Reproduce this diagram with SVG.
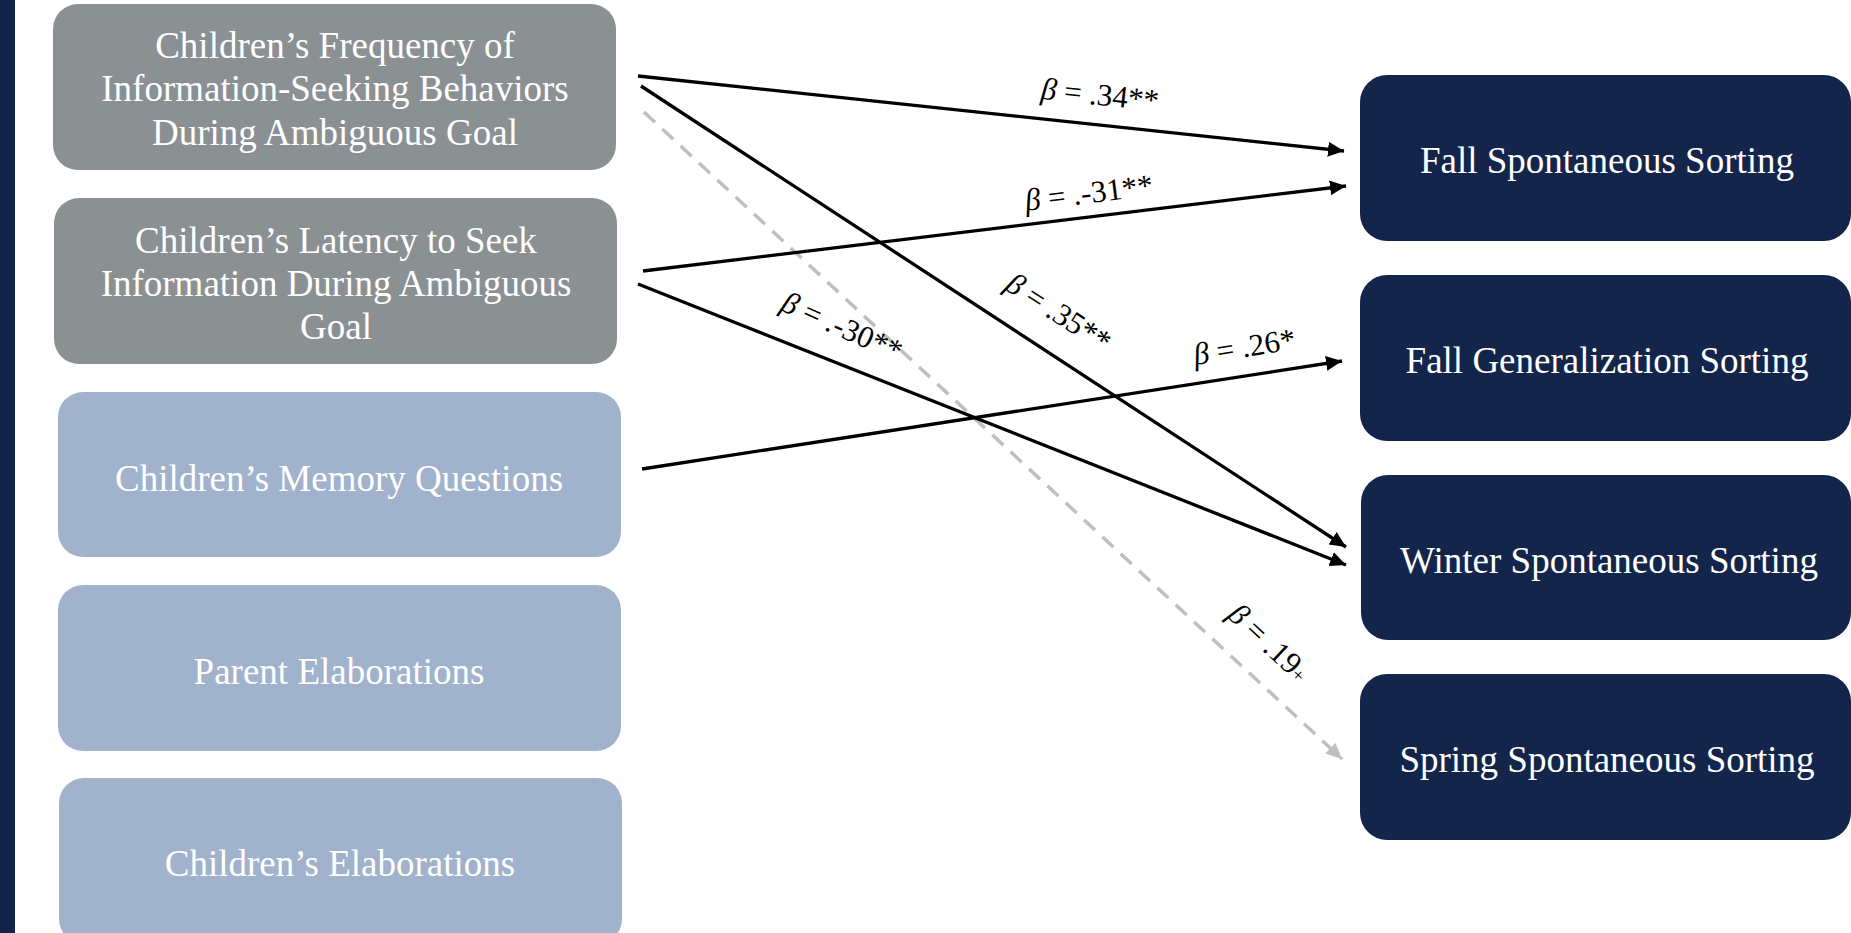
<svg xmlns="http://www.w3.org/2000/svg" width="1851" height="933" viewBox="0 0 1851 933">
<style>
.gray{fill:#8b9093}
.blue{fill:#a1b2cc}
.navy{fill:#14254b}
.t{font-family:"Liberation Serif","Times New Roman",serif;font-size:37px;fill:#ffffff;text-anchor:middle}
.lbl{font-family:"Liberation Serif","Times New Roman",serif;font-size:31px;fill:#000000;text-anchor:middle}
.b{font-style:italic}
.solid{stroke:#000;stroke-width:3.3;fill:none}
.dash{stroke:#bfbfbf;stroke-width:3.5;fill:none;stroke-dasharray:15 10}
</style>
<defs>
<marker id="ah" markerUnits="userSpaceOnUse" markerWidth="17" markerHeight="16" refX="16" refY="7.5" orient="auto"><path d="M0,0 L16,7.5 L0,15 z" fill="#000"/></marker>
<marker id="ahg" markerUnits="userSpaceOnUse" markerWidth="17" markerHeight="16" refX="16" refY="7.5" orient="auto"><path d="M0,0 L16,7.5 L0,15 z" fill="#bfbfbf"/></marker>
</defs>
<rect x="0" y="0" width="1851" height="933" fill="#ffffff"/>
<rect x="0" y="0" width="15" height="933" fill="#13234a"/>

<g id="n-freq">
<rect class="gray" x="53" y="4" width="563" height="166" rx="25"/>
<text class="t" x="335" y="58">Children’s Frequency of</text>
<text class="t" x="335" y="101">Information-Seeking Behaviors</text>
<text class="t" x="335" y="145">During Ambiguous Goal</text>
</g>
<g id="n-latency">
<rect class="gray" x="54" y="198" width="563" height="166" rx="25"/>
<text class="t" x="336" y="253">Children’s Latency to Seek</text>
<text class="t" x="336" y="296">Information During Ambiguous</text>
<text class="t" x="336" y="339">Goal</text>
</g>
<g id="n-memory">
<rect class="blue" x="58" y="392" width="563" height="165" rx="25"/>
<text class="t" x="339" y="491">Children’s Memory Questions</text>
</g>
<g id="n-parent">
<rect class="blue" x="58" y="585" width="563" height="166" rx="25"/>
<text class="t" x="339" y="684">Parent Elaborations</text>
</g>
<g id="n-child-elab">
<rect class="blue" x="59" y="778" width="563" height="166" rx="25"/>
<text class="t" x="340" y="876">Children’s Elaborations</text>
</g>

<g id="n-fall-spont">
<rect class="navy" x="1360" y="75" width="491" height="166" rx="27"/>
<text class="t" x="1607" y="173">Fall Spontaneous Sorting</text>
</g>
<g id="n-fall-gen">
<rect class="navy" x="1360" y="275" width="491" height="166" rx="27"/>
<text class="t" x="1607" y="373">Fall Generalization Sorting</text>
</g>
<g id="n-winter">
<rect class="navy" x="1361" y="475" width="490" height="165" rx="27"/>
<text class="t" x="1609" y="573">Winter Spontaneous Sorting</text>
</g>
<g id="n-spring">
<rect class="navy" x="1360" y="674" width="491" height="166" rx="27"/>
<text class="t" x="1607" y="772">Spring Spontaneous Sorting</text>
</g>

<g id="connectors">
<line class="dash" x1="644" y1="112" x2="1342" y2="759" marker-end="url(#ahg)"/>
<line class="solid" x1="638" y1="76" x2="1344" y2="151" marker-end="url(#ah)"/>
<line class="solid" x1="643" y1="271" x2="1346" y2="186" marker-end="url(#ah)"/>
<line class="solid" x1="641" y1="86" x2="1346" y2="547" marker-end="url(#ah)"/>
<line class="solid" x1="638" y1="284" x2="1346" y2="565" marker-end="url(#ah)"/>
<line class="solid" x1="642" y1="469" x2="1342" y2="361" marker-end="url(#ah)"/>

<text class="lbl" transform="translate(1099,105) rotate(6)"><tspan class="b">β</tspan> = .34**</text>
<text class="lbl" transform="translate(1090,203) rotate(-7)"><tspan class="b">β</tspan> = .-31**</text>
<text class="lbl" transform="translate(838,336) rotate(24)"><tspan class="b">β</tspan> = .-30**</text>
<text class="lbl" transform="translate(1053,321) rotate(33)"><tspan class="b">β</tspan> = .35**</text>
<text class="lbl" transform="translate(1246,357) rotate(-9)"><tspan class="b">β</tspan> = .26*</text>
<text class="lbl" transform="translate(1262,650) rotate(43)"><tspan class="b">β</tspan> = .19<tspan font-size="19">+</tspan></text>
</g>
</svg>
